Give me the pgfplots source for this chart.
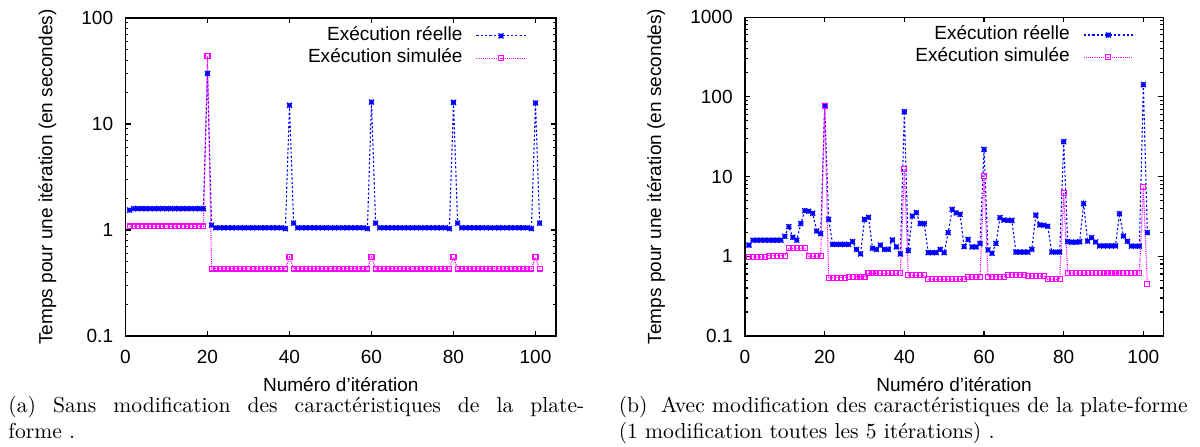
\documentclass[border=0pt]{standalone}
\usepackage{fontspec}
\usepackage{pgfplots}
\pgfplotsset{compat=1.18}
\newfontfamily\gpfont{Liberation Sans}
\newcommand\gp{\gpfont\fontsize{8.8}{10}\selectfont}
\definecolor{gpblue}{RGB}{0,0,255}
\definecolor{gpmag}{RGB}{255,0,255}
\pgfdeclareplotmark{gpstar}{%
  \pgfpathmoveto{\pgfqpoint{-\pgfplotmarksize}{0pt}}\pgfpathlineto{\pgfqpoint{\pgfplotmarksize}{0pt}}%
  \pgfpathmoveto{\pgfqpoint{0pt}{-\pgfplotmarksize}}\pgfpathlineto{\pgfqpoint{0pt}{\pgfplotmarksize}}%
  \pgfpathmoveto{\pgfqpoint{-\pgfplotmarksize}{-\pgfplotmarksize}}\pgfpathlineto{\pgfqpoint{\pgfplotmarksize}{\pgfplotmarksize}}%
  \pgfpathmoveto{\pgfqpoint{-\pgfplotmarksize}{\pgfplotmarksize}}\pgfpathlineto{\pgfqpoint{\pgfplotmarksize}{-\pgfplotmarksize}}%
  \pgfusepathqstroke}
\pgfplotsset{
  legend image code/.code={\draw[mark repeat=2,mark phase=2,#1] plot coordinates {(0cm,0cm) (0.4cm,0cm) (0.8cm,0cm)};},
}
\begin{document}
\begin{tikzpicture}
\useasboundingbox (0,0) rectangle (555pt,206.28pt);
% ---------------- (a)
\begin{axis}[scale only axis, ymode=log, xmin=0, xmax=105,
  at={(58.04pt,50.88pt)}, anchor=south west, width=199.11pt, height=147.08pt,
  xtick={0,20,40,60,80,100}, xticklabels={0,20,40,60,80,100},
  ymin=0.1, ymax=100, ytick={0.1,1,10,100}, yticklabels={0.1,1,10,100},
  minor ytick={0.2,0.3,0.4,0.5,0.6,0.7,0.8,0.9,2,3,4,5,6,7,8,9,20,30,40,50,60,70,80,90},
  axis line style={line width=0.5pt},
  tick style={black, line width=0.5pt},
  major tick length=2.5pt, minor tick length=1.3pt,
  tick label style={font=\gp},
  xticklabel style={anchor=center, yshift=-9.6pt},
  yticklabel style={anchor=east, xshift=-2.2pt},
  xlabel={Numéro d’itération},
  ylabel={Temps pour une itération (en secondes)},
  every axis y label/.style={at={(rel axis cs:-0.1813,0.5)}, rotate=90, anchor=center, font=\gp},
  every axis x label/.style={at={(rel axis cs:0.5,-0.154)}, anchor=center, font=\gp},
  legend cell align=right, legend plot pos=right,
  legend style={at={(rel axis cs:1,1)}, anchor=north east, xshift=-13.8pt, yshift=-3.8pt,
    draw=none, fill=none, inner sep=0pt, outer sep=0pt, row sep=1.3pt, column sep=6.2pt,
    nodes={inner sep=0pt, text height=6.5pt, text depth=2.5pt, font=\gp}}]
\addplot[gpblue, line width=0.5pt, dash pattern=on 1pt off 1pt, mark=gpstar, mark size=1.15pt, mark options={solid, line width=0.6pt}] table {
x y
1 1.54
2 1.59
3 1.59
4 1.59
5 1.59
6 1.59
7 1.59
8 1.59
9 1.59
10 1.59
11 1.59
12 1.59
13 1.59
14 1.59
15 1.59
16 1.59
17 1.59
18 1.59
19 1.59
20 30
21 1.11
22 1.05
23 1.05
24 1.05
25 1.05
26 1.05
27 1.05
28 1.05
29 1.05
30 1.05
31 1.05
32 1.05
33 1.05
34 1.05
35 1.05
36 1.05
37 1.05
38 1.05
39 1.03
40 15
41 1.16
42 1.05
43 1.05
44 1.05
45 1.05
46 1.05
47 1.05
48 1.05
49 1.05
50 1.05
51 1.05
52 1.05
53 1.05
54 1.05
55 1.05
56 1.05
57 1.05
58 1.05
59 1.03
60 16.1
61 1.16
62 1.05
63 1.05
64 1.05
65 1.05
66 1.05
67 1.05
68 1.05
69 1.05
70 1.05
71 1.05
72 1.05
73 1.05
74 1.05
75 1.05
76 1.05
77 1.05
78 1.05
79 1.03
80 16
81 1.16
82 1.05
83 1.05
84 1.05
85 1.05
86 1.05
87 1.05
88 1.05
89 1.05
90 1.05
91 1.05
92 1.05
93 1.05
94 1.05
95 1.05
96 1.05
97 1.05
98 1.05
99 1.03
100 15.8
101 1.16
};
\addlegendentry{Exécution réelle}
\addplot[gpmag, line width=0.5pt, dash pattern=on 0.5pt off 0.5pt, mark=square, mark size=1.15pt, mark options={solid, line width=0.5pt}] table {
x y
1 1.08
2 1.08
3 1.08
4 1.08
5 1.08
6 1.08
7 1.08
8 1.08
9 1.08
10 1.08
11 1.08
12 1.08
13 1.08
14 1.08
15 1.08
16 1.08
17 1.08
18 1.08
19 1.08
20 44
21 0.433
22 0.433
23 0.433
24 0.433
25 0.433
26 0.433
27 0.433
28 0.433
29 0.433
30 0.433
31 0.433
32 0.433
33 0.433
34 0.433
35 0.433
36 0.433
37 0.433
38 0.433
39 0.433
40 0.553
41 0.433
42 0.433
43 0.433
44 0.433
45 0.433
46 0.433
47 0.433
48 0.433
49 0.433
50 0.433
51 0.433
52 0.433
53 0.433
54 0.433
55 0.433
56 0.433
57 0.433
58 0.433
59 0.433
60 0.553
61 0.433
62 0.433
63 0.433
64 0.433
65 0.433
66 0.433
67 0.433
68 0.433
69 0.433
70 0.433
71 0.433
72 0.433
73 0.433
74 0.433
75 0.433
76 0.433
77 0.433
78 0.433
79 0.433
80 0.553
81 0.433
82 0.433
83 0.433
84 0.433
85 0.433
86 0.433
87 0.433
88 0.433
89 0.433
90 0.433
91 0.433
92 0.433
93 0.433
94 0.433
95 0.433
96 0.433
97 0.433
98 0.433
99 0.433
100 0.553
101 0.433
};
\addlegendentry{Exécution simulée}
\end{axis}
% ---------------- (b)
\begin{axis}[scale only axis, ymode=log, xmin=0, xmax=105,
  at={(344.56pt,50.88pt)}, anchor=south west, width=193.46pt, height=147.5pt,
  xtick={0,20,40,60,80,100}, xticklabels={0,20,40,60,80,100},
  ymin=0.1, ymax=1000, ytick={0.1,1,10,100,1000}, yticklabels={0.1,1,10,100,1000},
  minor ytick={0.2,0.3,0.4,0.5,0.6,0.7,0.8,0.9,2,3,4,5,6,7,8,9,20,30,40,50,60,70,80,90,200,300,400,500,600,700,800,900},
  axis line style={line width=0.5pt},
  tick style={black, line width=0.5pt},
  major tick length=2.5pt, minor tick length=1.3pt,
  tick label style={font=\gp},
  xticklabel style={anchor=center, yshift=-9.6pt},
  yticklabel style={anchor=east, xshift=-2.2pt},
  xlabel={Numéro d’itération},
  ylabel={Temps pour une itération (en secondes)},
  every axis y label/.style={at={(rel axis cs:-0.2128,0.5)}, rotate=90, anchor=center, font=\gp},
  every axis x label/.style={at={(rel axis cs:0.5,-0.151)}, anchor=center, font=\gp},
  legend cell align=right, legend plot pos=right,
  legend style={at={(rel axis cs:1,1)}, anchor=north east, xshift=-13.8pt, yshift=-3.8pt,
    draw=none, fill=none, inner sep=0pt, outer sep=0pt, row sep=1.3pt, column sep=6.2pt,
    nodes={inner sep=0pt, text height=6.5pt, text depth=2.5pt, font=\gp}}]
\addplot[gpblue, line width=0.5pt, dash pattern=on 1pt off 1pt, mark=gpstar, mark size=1.15pt, mark options={solid, line width=0.6pt}] table {
x y
1 1.38
2 1.59
3 1.59
4 1.59
5 1.59
6 1.59
7 1.59
8 1.59
9 1.59
10 1.78
11 2.35
12 1.73
13 1.59
14 2.57
15 3.73
16 3.67
17 3.46
18 2.07
19 1.92
20 78
21 2.9
22 1.41
23 1.41
24 1.41
25 1.41
26 1.41
27 1.53
28 1.22
29 1.07
30 2.9
31 3.08
32 1.26
33 1.22
34 1.38
35 1.22
36 1.22
37 1.6
38 1.31
39 1.07
40 65
41 1.18
42 3.2
43 3.52
44 2.57
45 2.57
46 1.11
47 1.11
48 1.11
49 1.22
50 1.11
51 1.98
52 3.88
53 3.5
54 3.36
55 1.32
56 1.63
57 1.31
58 1.31
59 1.44
60 21.9
61 1.2
62 1.09
63 1.45
64 3.05
65 2.85
66 2.82
67 2.82
68 1.13
69 1.13
70 1.13
71 1.13
72 1.22
73 3.29
74 2.47
75 2.45
76 2.38
77 1.13
78 1.13
79 1.13
80 27.4
81 1.53
82 1.5
83 1.5
84 1.52
85 4.57
86 1.55
87 1.71
88 1.51
89 1.35
90 1.35
91 1.35
92 1.35
93 1.35
94 3.42
95 1.79
96 1.54
97 1.34
98 1.34
99 1.34
100 142
101 1.98
};
\addlegendentry{Exécution réelle}
\addplot[gpmag, line width=0.5pt, dash pattern=on 0.5pt off 0.5pt, mark=square, mark size=1.15pt, mark options={solid, line width=0.5pt}] table {
x y
1 0.98
2 0.98
3 0.98
4 0.98
5 0.98
6 1.02
7 1.02
8 1.02
9 1.02
10 1.02
11 1.26
12 1.26
13 1.26
14 1.26
15 1.26
16 1.0
17 1.0
18 1.0
19 1.0
20 76.6
21 0.54
22 0.54
23 0.54
24 0.54
25 0.54
26 0.556
27 0.556
28 0.556
29 0.556
30 0.556
31 0.61
32 0.61
33 0.61
34 0.61
35 0.61
36 0.61
37 0.61
38 0.61
39 0.61
40 12.3
41 0.577
42 0.577
43 0.577
44 0.577
45 0.577
46 0.514
47 0.514
48 0.514
49 0.514
50 0.514
51 0.514
52 0.514
53 0.514
54 0.514
55 0.514
56 0.55
57 0.55
58 0.55
59 0.55
60 10.1
61 0.556
62 0.556
63 0.556
64 0.556
65 0.556
66 0.589
67 0.589
68 0.589
69 0.589
70 0.589
71 0.566
72 0.566
73 0.566
74 0.566
75 0.566
76 0.514
77 0.514
78 0.514
79 0.514
80 6.28
81 0.615
82 0.615
83 0.615
84 0.615
85 0.615
86 0.615
87 0.615
88 0.615
89 0.615
90 0.615
91 0.615
92 0.615
93 0.615
94 0.615
95 0.615
96 0.615
97 0.615
98 0.615
99 0.615
100 7.46
101 0.45
};
\addlegendentry{Exécution simulée}
\end{axis}
% ---------------- captions
\begin{scope}[every node/.style={inner sep=0pt, anchor=base west, font=\fontsize{10}{12}\selectfont}]
\node at (3.7pt,15.5pt) {\makebox[266.4pt][s]{(a) Sans modification des caractéristiques de la plate-}};
\node at (3.7pt,3.7pt) {forme .};
\node at (286.0pt,15.5pt) {(b)\hspace{6.2pt}Avec modification des caractéristiques de la plate-forme};
\node at (286.0pt,3.7pt) {(1 modification toutes les 5 itérations) .};
\end{scope}
\end{tikzpicture}
\end{document}
